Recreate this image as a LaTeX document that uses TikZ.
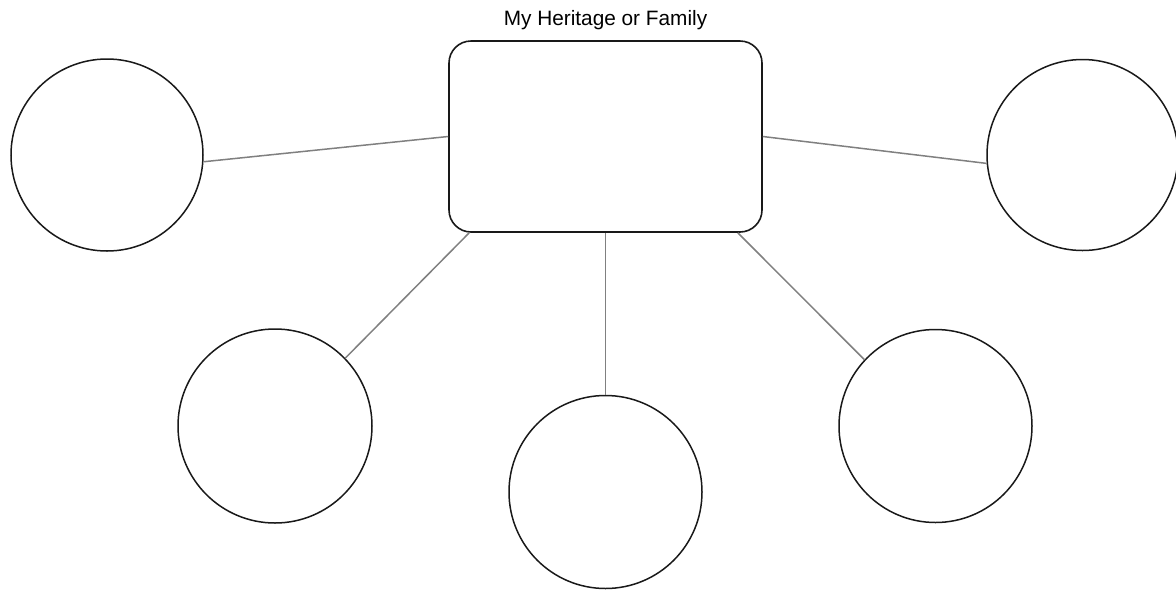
\documentclass[tikz,border=0pt]{standalone}
\usepackage{fontspec}
\setmainfont{Liberation Sans}
\begin{document}
\begin{tikzpicture}[x=1pt,y=-1pt,
  ring/.style={draw=black!90,line width=1.5pt,circle,inner sep=0pt,minimum size=#1},
  box/.style={draw=black!90,line width=1.6pt,rounded corners=22pt,minimum width=313pt,minimum height=191pt,inner sep=0pt},
  conn/.style={draw=black!50,line width=1.5pt},
  ttl/.style={font=\fontsize{20.8}{24}\selectfont,inner sep=0pt,anchor=base}]
\useasboundingbox[fill=white] (0,0) rectangle (1176,590);
\node[ttl] (title) at (605.5,25.5) {My Heritage or Family};
\node[box] (rect) at (605.5,136.5) {};
\node[ring=192pt] (L) at (107,155) {};
\node[ring=191pt] (R) at (1082.5,155) {};
\node[ring=194pt] (BL) at (275,426) {};
\node[ring=193pt] (BC) at (605.5,492) {};
\node[ring=193pt] (BR) at (935.5,426) {};
\draw[conn] (L.-4) -- (rect.west);
\draw[conn] (rect.east) -- (R.185);
\draw[conn] ([xshift=21pt]rect.south west) -- (BL.44);
\draw[conn] (rect.south) -- (BC.north);
\draw[conn] ([xshift=-25pt]rect.south east) -- (BR.137);
\end{tikzpicture}
\end{document}
